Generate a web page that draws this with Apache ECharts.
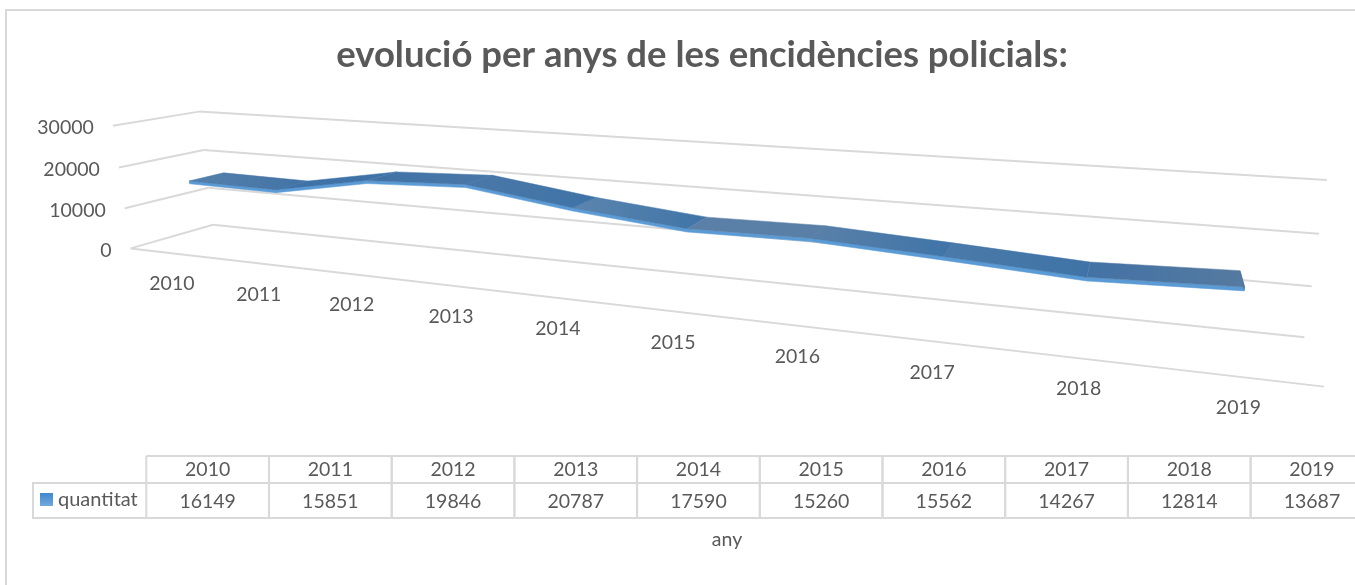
<!DOCTYPE html>
<html>
<head>
<meta charset="utf-8">
<title>evolució per anys de les encidències policials</title>
<script src="https://cdn.jsdelivr.net/npm/echarts@6/dist/echarts.min.js"></script>
<style>
  html, body { margin: 0; padding: 0; background: #fff; }
  #chart { width: 1355px; height: 585px; }
</style>
</head>
<body>
<div id="chart"></div>
<script>
const years = ['2010', '2011', '2012', '2013', '2014', '2015', '2016', '2017', '2018', '2019']
const quantitat = [16149, 15851, 19846, 20787, 17590, 15260, 15562, 14267, 12814, 13687]
const valueTicks = [0, 10000, 20000, 30000]

const FONT = 'Lato, "Open Sans", sans-serif'
const TEXT = '#595959'
const LINE = '#d9d9d9'

// colour of each ribbon segment, left -> right
const segmentShades = [
  ['#5580aa', '#4273a6'], ['#3f72a6', '#3f72a6'], ['#3f72a6', '#4a78a8'],
  ['#4a78a8', '#3f73a7'], ['#5c85ad', '#3f74a8'], ['#5a80a8', '#5a7fa6'],
  ['#5a80a8', '#3f74a8'], ['#4a7aa8', '#3f73a7'], ['#4272a5', '#567aa0']
]

// the 3d box as seen on the page: [x fraction, depth, value / 10000] -> [px, py]
const cameraPoints = [
  [0, 0, 0, 130.7, 248.3], [1, 0, 0, 1324, 386.7], [0, 1, 0, 213, 225], [1, 1, 0, 1304.3, 337.3],
  [0, 1, 1, 208.3, 187.3], [0, 1, 2, 204, 150], [0, 1, 3, 199, 111.7],
  [1, 1, 1, 1311.7, 286], [1, 1, 2, 1319.3, 234], [1, 1, 3, 1326.7, 180],
  [0, 0, 1, 124.7, 208.3], [0, 0, 2, 119, 167.7], [0, 0, 3, 112.7, 125.7]
]
const ribbonFront = 0.3
const ribbonBack = 0.72
const ribbonEdge = 700

// least squares for the projection matrix
function solveCamera (points) {
  const rows = []
  points.forEach(([x, d, y, u, v]) => {
    u /= 1000
    v /= 1000
    rows.push([x, d, y, 1, 0, 0, 0, 0, -u * x, -u * d, -u * y, u])
    rows.push([0, 0, 0, 0, x, d, y, 1, -v * x, -v * d, -v * y, v])
  })
  const n = 11
  const m = []
  for (let i = 0; i < n; i++) {
    m[i] = []
    for (let j = 0; j <= n; j++) {
      let sum = 0
      rows.forEach(r => { sum += r[i] * r[j] })
      m[i][j] = sum
    }
  }
  for (let c = 0; c < n; c++) {
    let best = c
    for (let r = c + 1; r < n; r++) {
      if (Math.abs(m[r][c]) > Math.abs(m[best][c])) best = r
    }
    const tmp = m[c]; m[c] = m[best]; m[best] = tmp
    for (let r = 0; r < n; r++) {
      if (r === c) continue
      const f = m[r][c] / m[c][c]
      for (let j = c; j <= n; j++) m[r][j] -= f * m[c][j]
    }
  }
  return m.map((r, i) => r[n] / r[i])
}
const cam = solveCamera(cameraPoints)

function project (x, depth, value) {
  const y = value / 10000
  const w = cam[8] * x + cam[9] * depth + cam[10] * y + 1
  return [
    1000 * (cam[0] * x + cam[1] * depth + cam[2] * y + cam[3]) / w,
    1000 * (cam[4] * x + cam[5] * depth + cam[6] * y + cam[7]) / w
  ]
}

// the hidden grid gives the scales, project() turns them into the 3d view
const PLOT = { left: 100, top: 100, width: 1000, height: 300 }
function xFraction (api, i) {
  return (api.coord([i, 0])[0] - PLOT.left) / PLOT.width
}
function yValue (api, v) {
  return (PLOT.top + PLOT.height - api.coord([0, v])[1]) / PLOT.height * 30000
}

function text (x, y, str, align, extra) {
  return {
    type: 'text',
    style: Object.assign({
      x: x, y: y, text: str, fill: TEXT, fontSize: 19.5, fontFamily: FONT,
      align: align, verticalAlign: 'middle'
    }, extra || {})
  }
}
function line (a, b, width) {
  return {
    type: 'line',
    shape: { x1: a[0], y1: a[1], x2: b[0], y2: b[1] },
    style: { stroke: LINE, lineWidth: width || 2 }
  }
}

function renderWall (params, api) {
  const v = yValue(api, api.value(1))
  const label = project(0, 0, v)
  const items = [
    line(project(0, 0, v), project(0, 1, v)),
    line(project(0, 1, v), project(1, 1, v)),
    text(label[0] - 19, label[1] + 2, String(api.value(1)), 'right')
  ]
  if (api.value(1) === 0) items.push(line(project(0, 0, 0), project(1, 0, 0)))
  return { type: 'group', children: items }
}

function renderYear (params, api) {
  const p = project(xFraction(api, params.dataIndex), 0, 0)
  return text(p[0], p[1] + 31, years[params.dataIndex], 'center')
}

function renderSegment (params, api) {
  const i = params.dataIndex
  const x0 = xFraction(api, i)
  const v0 = yValue(api, api.value(1))
  const items = []
  if (i < quantitat.length - 1) {
    const x1 = xFraction(api, i + 1)
    const v1 = yValue(api, api.value(2))
    const shade = segmentShades[i]
    items.push({
      type: 'polygon',
      shape: { points: [project(x0, ribbonFront, v0), project(x1, ribbonFront, v1), project(x1, ribbonFront, v1 - ribbonEdge), project(x0, ribbonFront, v0 - ribbonEdge)] },
      style: { fill: '#5b9bd5', stroke: '#5b9bd5', lineWidth: 0.5 }
    })
    items.push({
      type: 'polygon',
      shape: { points: [project(x0, ribbonFront, v0), project(x1, ribbonFront, v1), project(x1, ribbonBack, v1), project(x0, ribbonBack, v0)] },
      style: {
        fill: new echarts.graphic.LinearGradient(0, 0, 1, 0, [
          { offset: 0, color: shade[0] }, { offset: 1, color: shade[1] }
        ]),
        stroke: shade[1],
        lineWidth: 0.5
      }
    })
  } else {
    // end cap of the ribbon
    items.push({
      type: 'polygon',
      shape: { points: [project(x0, ribbonFront, v0), project(x0, ribbonBack, v0), project(x0, ribbonBack, v0 - ribbonEdge), project(x0, ribbonFront, v0 - ribbonEdge)] },
      style: { fill: '#5277a0' }
    })
  }
  return { type: 'group', children: items }
}

// data table under the plot
const TABLE = { left: 146.3, width: 1227, top: 456, mid: 483, bottom: 518, keyLeft: 33 }
function renderCell (params, api) {
  const i = params.dataIndex
  const cx = api.coord([i, 0])[0]
  const w = api.size([1, 0])[0]
  const left = cx - w / 2
  const items = [
    line([left, TABLE.top], [left + w, TABLE.top]),
    line([left, TABLE.mid], [left + w, TABLE.mid]),
    line([left, TABLE.bottom], [left + w, TABLE.bottom]),
    line([left, TABLE.top], [left, TABLE.bottom]),
    line([left + w, TABLE.top], [left + w, TABLE.bottom]),
    text(cx, TABLE.top + 13.5, years[i], 'center'),
    text(cx, TABLE.mid + 18.5, String(api.value(1)), 'center')
  ]
  if (i === 0) {
    items.push(
      line([TABLE.keyLeft, TABLE.mid], [left, TABLE.mid]),
      line([TABLE.keyLeft, TABLE.bottom], [left, TABLE.bottom]),
      line([TABLE.keyLeft, TABLE.mid - 1], [TABLE.keyLeft, TABLE.bottom + 1]),
      {
        type: 'rect',
        shape: { x: 40, y: 493, width: 13, height: 13 },
        style: {
          fill: new echarts.graphic.LinearGradient(0, 0, 0, 1, [
            { offset: 0, color: '#3f87cf' }, { offset: 1, color: '#71a9dc' }
          ])
        }
      },
      text(58, 500, 'quantitat', 'left', { fontSize: 20 })
    )
  }
  return { type: 'group', children: items }
}

const chart = echarts.init(document.getElementById('chart'), null, { renderer: 'canvas' })
chart.setOption({
  animation: false,
  backgroundColor: '#fff',
  title: {
    text: 'evolució per anys de les encidències policials:',
    left: 697,
    top: 50,
    textAlign: 'center',
    textVerticalAlign: 'middle',
    textStyle: { color: TEXT, fontFamily: FONT, fontWeight: 'bold', fontSize: 36.5 }
  },
  graphic: [
    {
      type: 'polyline',
      shape: { points: [[6, 600], [6, 10], [1360, 10]] },
      style: { stroke: LINE, lineWidth: 2, fill: 'none' },
      silent: true
    },
    {
      type: 'text',
      style: { x: 727, y: 540, text: 'any', fill: TEXT, fontSize: 19.5, fontFamily: FONT, align: 'center', verticalAlign: 'middle' },
      silent: true
    }
  ],
  grid: [
    Object.assign({ show: false, outerBoundsMode: 'none' }, PLOT),
    { show: false, outerBoundsMode: 'none', left: TABLE.left, width: TABLE.width, top: TABLE.top, height: TABLE.bottom - TABLE.top }
  ],
  xAxis: [
    { type: 'category', data: years, gridIndex: 0, show: false },
    { type: 'category', data: years, gridIndex: 1, show: false }
  ],
  yAxis: [
    { type: 'value', min: 0, max: 30000, interval: 10000, gridIndex: 0, show: false },
    { type: 'value', min: 0, max: 30000, gridIndex: 1, show: false }
  ],
  series: [
    {
      type: 'custom', name: 'eix', xAxisIndex: 0, yAxisIndex: 0, silent: true, clip: false, z: 1,
      data: valueTicks.map(v => [0, v]),
      renderItem: renderWall
    },
    {
      type: 'custom', name: 'anys', xAxisIndex: 0, yAxisIndex: 0, silent: true, clip: false, z: 1,
      data: years.map((y, i) => [i, 0]),
      renderItem: renderYear
    },
    {
      type: 'custom', name: 'quantitat', xAxisIndex: 0, yAxisIndex: 0, silent: true, clip: false, z: 3,
      data: quantitat.map((v, i) => [i, v, i < quantitat.length - 1 ? quantitat[i + 1] : v]),
      renderItem: renderSegment
    },
    {
      type: 'custom', name: 'taula', xAxisIndex: 1, yAxisIndex: 1, silent: true, clip: false, z: 2,
      data: quantitat.map((v, i) => [i, v]),
      renderItem: renderCell
    }
  ]
})
</script>
</body>
</html>
